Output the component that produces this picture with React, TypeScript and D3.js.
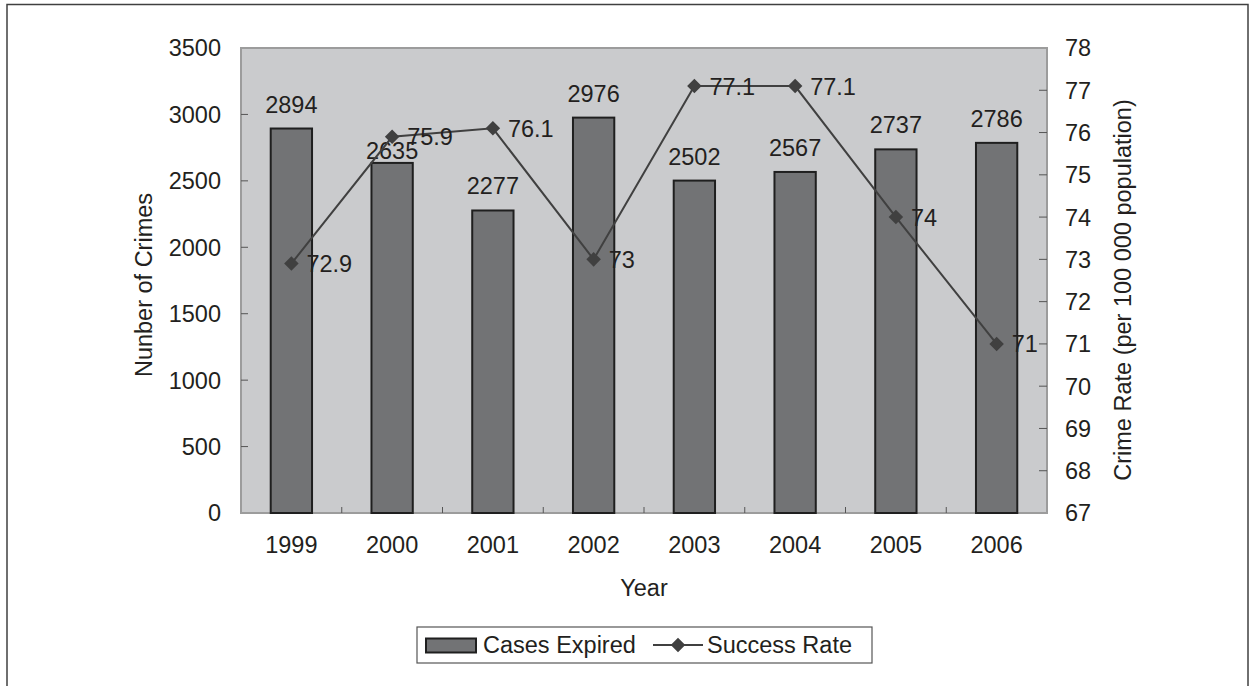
import React, { useEffect, useRef } from 'react';
import * as d3 from 'd3';

const years = ['1999', '2000', '2001', '2002', '2003', '2004', '2005', '2006'];
const casesExpired = [2894, 2635, 2277, 2976, 2502, 2567, 2737, 2786];
const successRate = [72.9, 75.9, 76.1, 73, 77.1, 77.1, 74, 71];
const leftTicks = [0, 500, 1000, 1500, 2000, 2500, 3000, 3500];
const rightTicks = [67, 68, 69, 70, 71, 72, 73, 74, 75, 76, 77, 78];

const W = 1254;
const H = 686;
const FONT = '"Liberation Sans", Arial, sans-serif';
const TXT = '#231f20';

const App: React.FC = () => {
  const svgRef = useRef<SVGSVGElement | null>(null);

  useEffect(() => {
    if (!svgRef.current) return;
    const svg = d3.select(svgRef.current);
    svg.selectAll('*').remove();

    const margin = { top: 48, left: 241, right: 1047, bottom: 513 };

    const x = d3.scaleBand().domain(years).range([margin.left, margin.right]).paddingInner(0).paddingOuter(0);
    const yL = d3.scaleLinear().domain([0, 3500]).range([margin.bottom, margin.top]);
    const yR = d3.scaleLinear().domain([67, 78]).range([margin.bottom, margin.top]);
    const barW = x.bandwidth() * 0.41;

    // outer frame
    svg
      .append('rect')
      .attr('x', 7)
      .attr('y', 4.5)
      .attr('width', 1241)
      .attr('height', 700)
      .attr('fill', 'white')
      .attr('stroke', '#404040')
      .attr('stroke-width', 1.5);

    // plot area
    svg
      .append('rect')
      .attr('x', margin.left)
      .attr('y', margin.top)
      .attr('width', margin.right - margin.left)
      .attr('height', margin.bottom - margin.top)
      .attr('fill', '#cacbcd')
      .attr('stroke', '#9c9c9c')
      .attr('stroke-width', 2);

    // left ticks
    const gl = svg.append('g');
    leftTicks.forEach((t) => {
      if (t !== 0 && t !== 3500) {
        gl.append('line')
          .attr('x1', margin.left).attr('x2', margin.left + 7)
          .attr('y1', yL(t)).attr('y2', yL(t))
          .attr('stroke', '#555').attr('stroke-width', 1);
      }
      gl.append('text')
        .attr('x', 221).attr('y', yL(t))
        .attr('dy', '0.36em')
        .attr('text-anchor', 'end')
        .text(t);
    });

    // right ticks
    const gr = svg.append('g');
    rightTicks.forEach((t) => {
      if (t !== 67 && t !== 78) {
        gr.append('line')
          .attr('x1', margin.right - 8).attr('x2', margin.right)
          .attr('y1', yR(t)).attr('y2', yR(t))
          .attr('stroke', '#555').attr('stroke-width', 1);
      }
      gr.append('text')
        .attr('x', 1065).attr('y', yR(t))
        .attr('dy', '0.36em')
        .attr('text-anchor', 'start')
        .text(t);
    });

    // x ticks at category boundaries
    years.slice(1).forEach((yr) => {
      svg.append('line')
        .attr('x1', x(yr)!).attr('x2', x(yr)!)
        .attr('y1', margin.bottom - 6).attr('y2', margin.bottom)
        .attr('stroke', '#555').attr('stroke-width', 1);
    });
    svg.selectAll('.xlab')
      .data(years)
      .enter()
      .append('text')
      .attr('x', (d) => x(d)! + x.bandwidth() / 2)
      .attr('y', 553)
      .attr('text-anchor', 'middle')
      .text((d) => d);

    // bars
    svg.selectAll('.bar')
      .data(casesExpired)
      .enter()
      .append('rect')
      .attr('x', (_, i) => x(years[i])! + x.bandwidth() / 2 - barW / 2)
      .attr('y', (d) => yL(d))
      .attr('width', barW)
      .attr('height', (d) => margin.bottom - yL(d))
      .attr('fill', '#727375')
      .attr('stroke', '#1f1f1f')
      .attr('stroke-width', 2);

    // bar labels (2000 label sits low, as in the source)
    svg.selectAll('.barlab')
      .data(casesExpired)
      .enter()
      .append('text')
      .attr('x', (_, i) => x(years[i])! + x.bandwidth() / 2)
      .attr('y', (d, i) => yL(d) - (i === 1 ? 4 : 16))
      .attr('text-anchor', 'middle')
      .text((d) => d);

    // line
    const cx = (i: number) => x(years[i])! + x.bandwidth() / 2;
    const line = d3.line<number>().x((_, i) => cx(i)).y((d) => yR(d));
    svg.append('path')
      .datum(successRate)
      .attr('d', line)
      .attr('fill', 'none')
      .attr('stroke', '#404040')
      .attr('stroke-width', 2);

    const diamond = d3.symbol().type(d3.symbolDiamond2).size(135);
    svg.selectAll('.pt')
      .data(successRate)
      .enter()
      .append('path')
      .attr('d', diamond)
      .attr('transform', (d, i) => `translate(${cx(i)},${yR(d)})`)
      .attr('fill', '#404040');

    svg.selectAll('.ptlab')
      .data(successRate)
      .enter()
      .append('text')
      .attr('x', (_, i) => cx(i) + 15)
      .attr('y', (d) => yR(d))
      .attr('dy', '0.36em')
      .text((d) => d);

    // axis titles
    svg.append('text')
      .attr('transform', 'translate(152,285) rotate(-90)')
      .attr('text-anchor', 'middle')
      .text('Nunber of Crimes');
    svg.append('text')
      .attr('transform', 'translate(1131,290) rotate(-90)')
      .attr('text-anchor', 'middle')
      .text('Crime Rate (per 100 000 population)');
    svg.append('text')
      .attr('x', 644).attr('y', 596)
      .attr('text-anchor', 'middle')
      .text('Year');

    // legend
    const lg = svg.append('g');
    lg.append('rect')
      .attr('x', 417).attr('y', 627)
      .attr('width', 455).attr('height', 36)
      .attr('fill', 'white')
      .attr('stroke', '#555').attr('stroke-width', 1.2);
    lg.append('rect')
      .attr('x', 426).attr('y', 638.5)
      .attr('width', 50).attr('height', 14)
      .attr('fill', '#727375')
      .attr('stroke', '#1f1f1f').attr('stroke-width', 2);
    lg.append('text').attr('x', 483).attr('y', 653).text('Cases Expired');
    lg.append('line')
      .attr('x1', 653).attr('x2', 703)
      .attr('y1', 645).attr('y2', 645)
      .attr('stroke', '#404040').attr('stroke-width', 2);
    lg.append('path')
      .attr('d', diamond)
      .attr('transform', 'translate(678,645)')
      .attr('fill', '#404040');
    lg.append('text').attr('x', 707).attr('y', 653).text('Success Rate');

    svg.selectAll('text')
      .attr('font-family', FONT)
      .attr('font-size', 23.5)
      .attr('fill', TXT);
  }, []);

  return (
    <svg
      ref={svgRef}
      width={W}
      height={H}
      style={{ position: 'absolute', left: 0, top: 0, background: 'white' }}
    />
  );
};

export default App;
